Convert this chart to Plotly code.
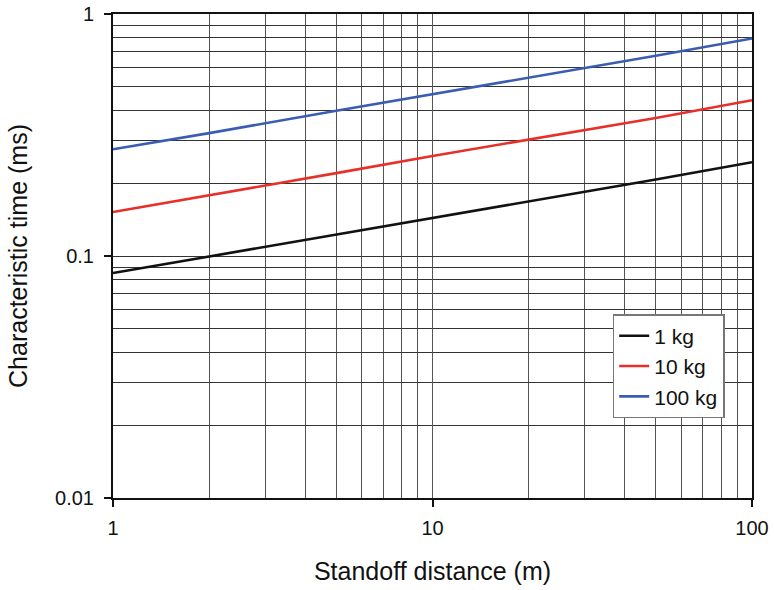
import plotly.graph_objects as go

# Data (log-log straight lines)
distance_m = [1, 2, 5, 10, 20, 50, 100]
t_1kg = [0.085, 0.0995, 0.123, 0.144, 0.168, 0.207, 0.244]
t_10kg = [0.152, 0.178, 0.220, 0.259, 0.302, 0.372, 0.44]
t_100kg = [0.276, 0.322, 0.398, 0.466, 0.545, 0.672, 0.792]
series_names = ["1 kg", "10 kg", "100 kg"]
series_colors = ["#111111", "#e8302a", "#3a5db3"]

x_major = [1, 10, 100]
x_labels = ["1", "10", "100"]
y_major = [0.01, 0.1, 1]
y_labels = ["0.01", "0.1", "1"]
x_minor = [m * d for d in (1, 10) for m in range(2, 10)]
y_minor = [m * d for d in (0.01, 0.1) for m in range(2, 10)]

fig = go.Figure()
for name, ys, col in zip(series_names, [t_1kg, t_10kg, t_100kg], series_colors):
    fig.add_trace(go.Scatter(x=distance_m, y=ys, mode="lines", name=name,
                             line=dict(color=col, width=2.6)))

font_family = "Liberation Sans, Arial, sans-serif"
fig.update_layout(
    width=774, height=590,
    margin=dict(l=113, r=22, t=14, b=92, autoexpand=False),
    plot_bgcolor="white", paper_bgcolor="white",
    font=dict(family=font_family, color="#111111", size=20),
    showlegend=True,
    legend=dict(x=0.782, y=0.38, xanchor="left", yanchor="top",
                bgcolor="white", bordercolor="#777777", borderwidth=1.5,
                font=dict(size=21), itemwidth=30),
)
fig.update_xaxes(
    type="log", range=[0, 2], automargin=False,
    tickvals=x_major, ticktext=x_labels,
    ticks="outside", ticklen=7, tickcolor="#111111", tickwidth=1.5,
    showline=True, linecolor="#111111", linewidth=2, mirror=True,
    showgrid=True, gridcolor="#555555", gridwidth=1,
    minor=dict(tickvals=x_minor, showgrid=True, gridcolor="#555555", gridwidth=1, ticks=""),
    title=dict(text="Standoff distance (m)", font=dict(size=25), standoff=24),
    tickfont=dict(size=20), zeroline=False, ticklabelstandoff=4,
)
fig.update_yaxes(
    type="log", range=[-2, 0], automargin=False,
    tickvals=y_major, ticktext=y_labels,
    ticks="outside", ticklen=7, tickcolor="#111111", tickwidth=1.5,
    showline=True, linecolor="#111111", linewidth=2, mirror=True,
    showgrid=True, gridcolor="#333333", gridwidth=1,
    minor=dict(tickvals=y_minor, showgrid=True, gridcolor="#333333", gridwidth=1, ticks=""),
    title=dict(text="Characteristic time (ms)", font=dict(size=25), standoff=20),
    tickfont=dict(size=20), zeroline=False, ticklabelstandoff=6,
)

fig.write_html("out.html")
